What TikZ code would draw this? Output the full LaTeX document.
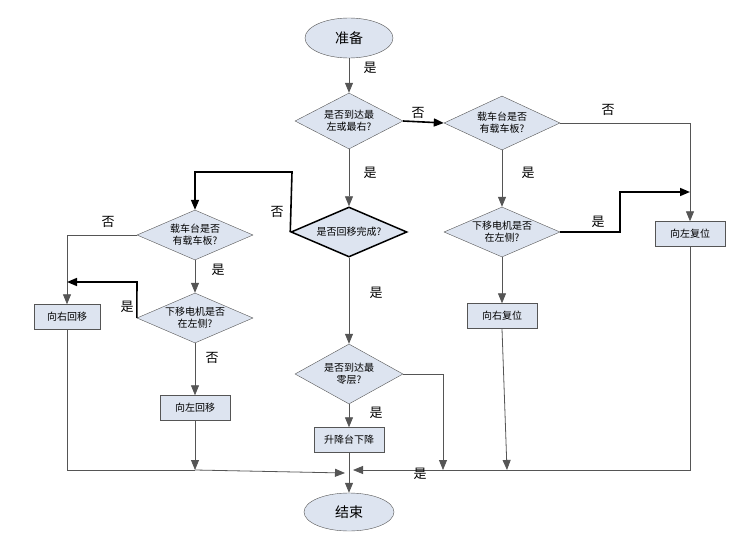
\documentclass[tikz,border=0pt]{standalone}
\usepackage{fontspec}
\setmainfont{Noto Sans CJK SC}
\usetikzlibrary{shapes.geometric,arrows.meta}
\definecolor{fillc}{HTML}{DDE4F0}
\definecolor{linec}{HTML}{555555}
\begin{document}
\begin{tikzpicture}[x=1pt,y=-1pt,
  base/.style={draw=linec,fill=fillc,font=\fontsize{10}{12}\selectfont,align=center,inner sep=0pt},
  ell/.style={base,ellipse,minimum width=88pt,minimum height=40pt,font=\fontsize{14}{16}\selectfont},
  dia/.style={base,diamond,aspect=2.1,minimum width=116pt,minimum height=54pt},
  box/.style={base,rectangle,minimum width=70pt,minimum height=25pt},
  ln/.style={draw=linec,line width=0.8pt},
  ar/.style={ln,-{Triangle[length=10pt,width=8pt]}},
  th/.style={draw=black,line width=1.6pt},
  tha/.style={th,-{Triangle[length=10pt,width=8pt]}},
  lb/.style={font=\fontsize{13}{15}\selectfont}]
\useasboundingbox (0,0) rectangle (737,543);
\node[ell] (start) at (349,38) {准备};
\node[dia,minimum width=108pt,minimum height=56pt] (d1) at (349,121) {是否到达最\\左或最右?};
\node[dia] (d2) at (502,123) {载车台是否\\有载车板?};
\node[box] (r1) at (690,234) {向左复位};
\node[dia,line width=1.5pt,draw=black,minimum height=50pt] (d3) at (349,232) {是否回移完成?};
\node[dia,minimum height=50pt] (d4) at (502,232) {下移电机是否\\在左侧?};
\node[dia,minimum height=50pt] (d5) at (195,235) {载车台是否\\有载车板?};
\node[dia,minimum height=50pt] (d6) at (195,318) {下移电机是否\\在左侧?};
\node[box,minimum width=66pt] (r2) at (67,317) {向右回移};
\node[box] (r3) at (195,408) {向左回移};
\node[box] (r4) at (502,316) {向右复位};
\node[dia,minimum width=108pt,minimum height=60pt] (d7) at (349,374) {是否到达最\\零层?};
\node[box] (r5) at (349,440) {升降台下降};
\node[ell,minimum width=90pt,minimum height=38pt] (end) at (349,512) {结束};
\coordinate (j) at (349,470);

\draw[ar] (start) -- (d1);
\node[lb] at (370,68) {是};
\draw[tha] (d1.east) -- (d2.west);
\node[lb] at (418,113) {否};
\draw[ar] (d2.east) -| (r1.north);
\node[lb] at (608,110) {否};
\draw[ar] (d2) -- (d4);
\node[lb] at (528,173) {是};
\draw[tha] (d4.east) -- (620,232) -- (620,192) -- (690,192);
\node[lb] at (598,222) {是};
\draw[ln] (r1.south) -- (690,470) -- (443,470);
\draw[ar] (443,470) -- (353,470);
\node[lb] at (420,474) {是};
\draw[ar] (r4.south) -- (507,470);
\draw[ar] (d4) -- (r4);
\draw[ar] (d1) -- (d3);
\node[lb] at (370,173) {是};
\draw[tha] (d3.west) -- (292,172) -- (195,172) -- (d5.north);
\node[lb] at (277,212) {否};
\draw[ar] (d3) -- (d7);
\node[lb] at (376,293) {是};
\draw[ar] (d7.east) -- (443,374) -- (443,470);
\draw[ar] (d7) -- (r5);
\node[lb] at (376,413) {是};
\draw[ln] (r5) -- (j);
\draw[ar] (j) -- (end);
\draw[ar] (d5.west) -| (r2.north);
\node[lb] at (108,222) {否};
\draw[ar] (d5) -- (d6);
\node[lb] at (218,270) {是};
\draw[tha] (d6.west) -- (137,282) -- (67,282);
\node[lb] at (127,307) {是};
\draw[ar] (d6) -- (r3);
\node[lb] at (212,358) {否};
\draw[ar] (r3.south) -- (195,470);
\draw[ln] (r2.south) -- (67,470) -- (195,470);
\draw[ar] (195,470) -- (345,473);
\end{tikzpicture}
\end{document}
